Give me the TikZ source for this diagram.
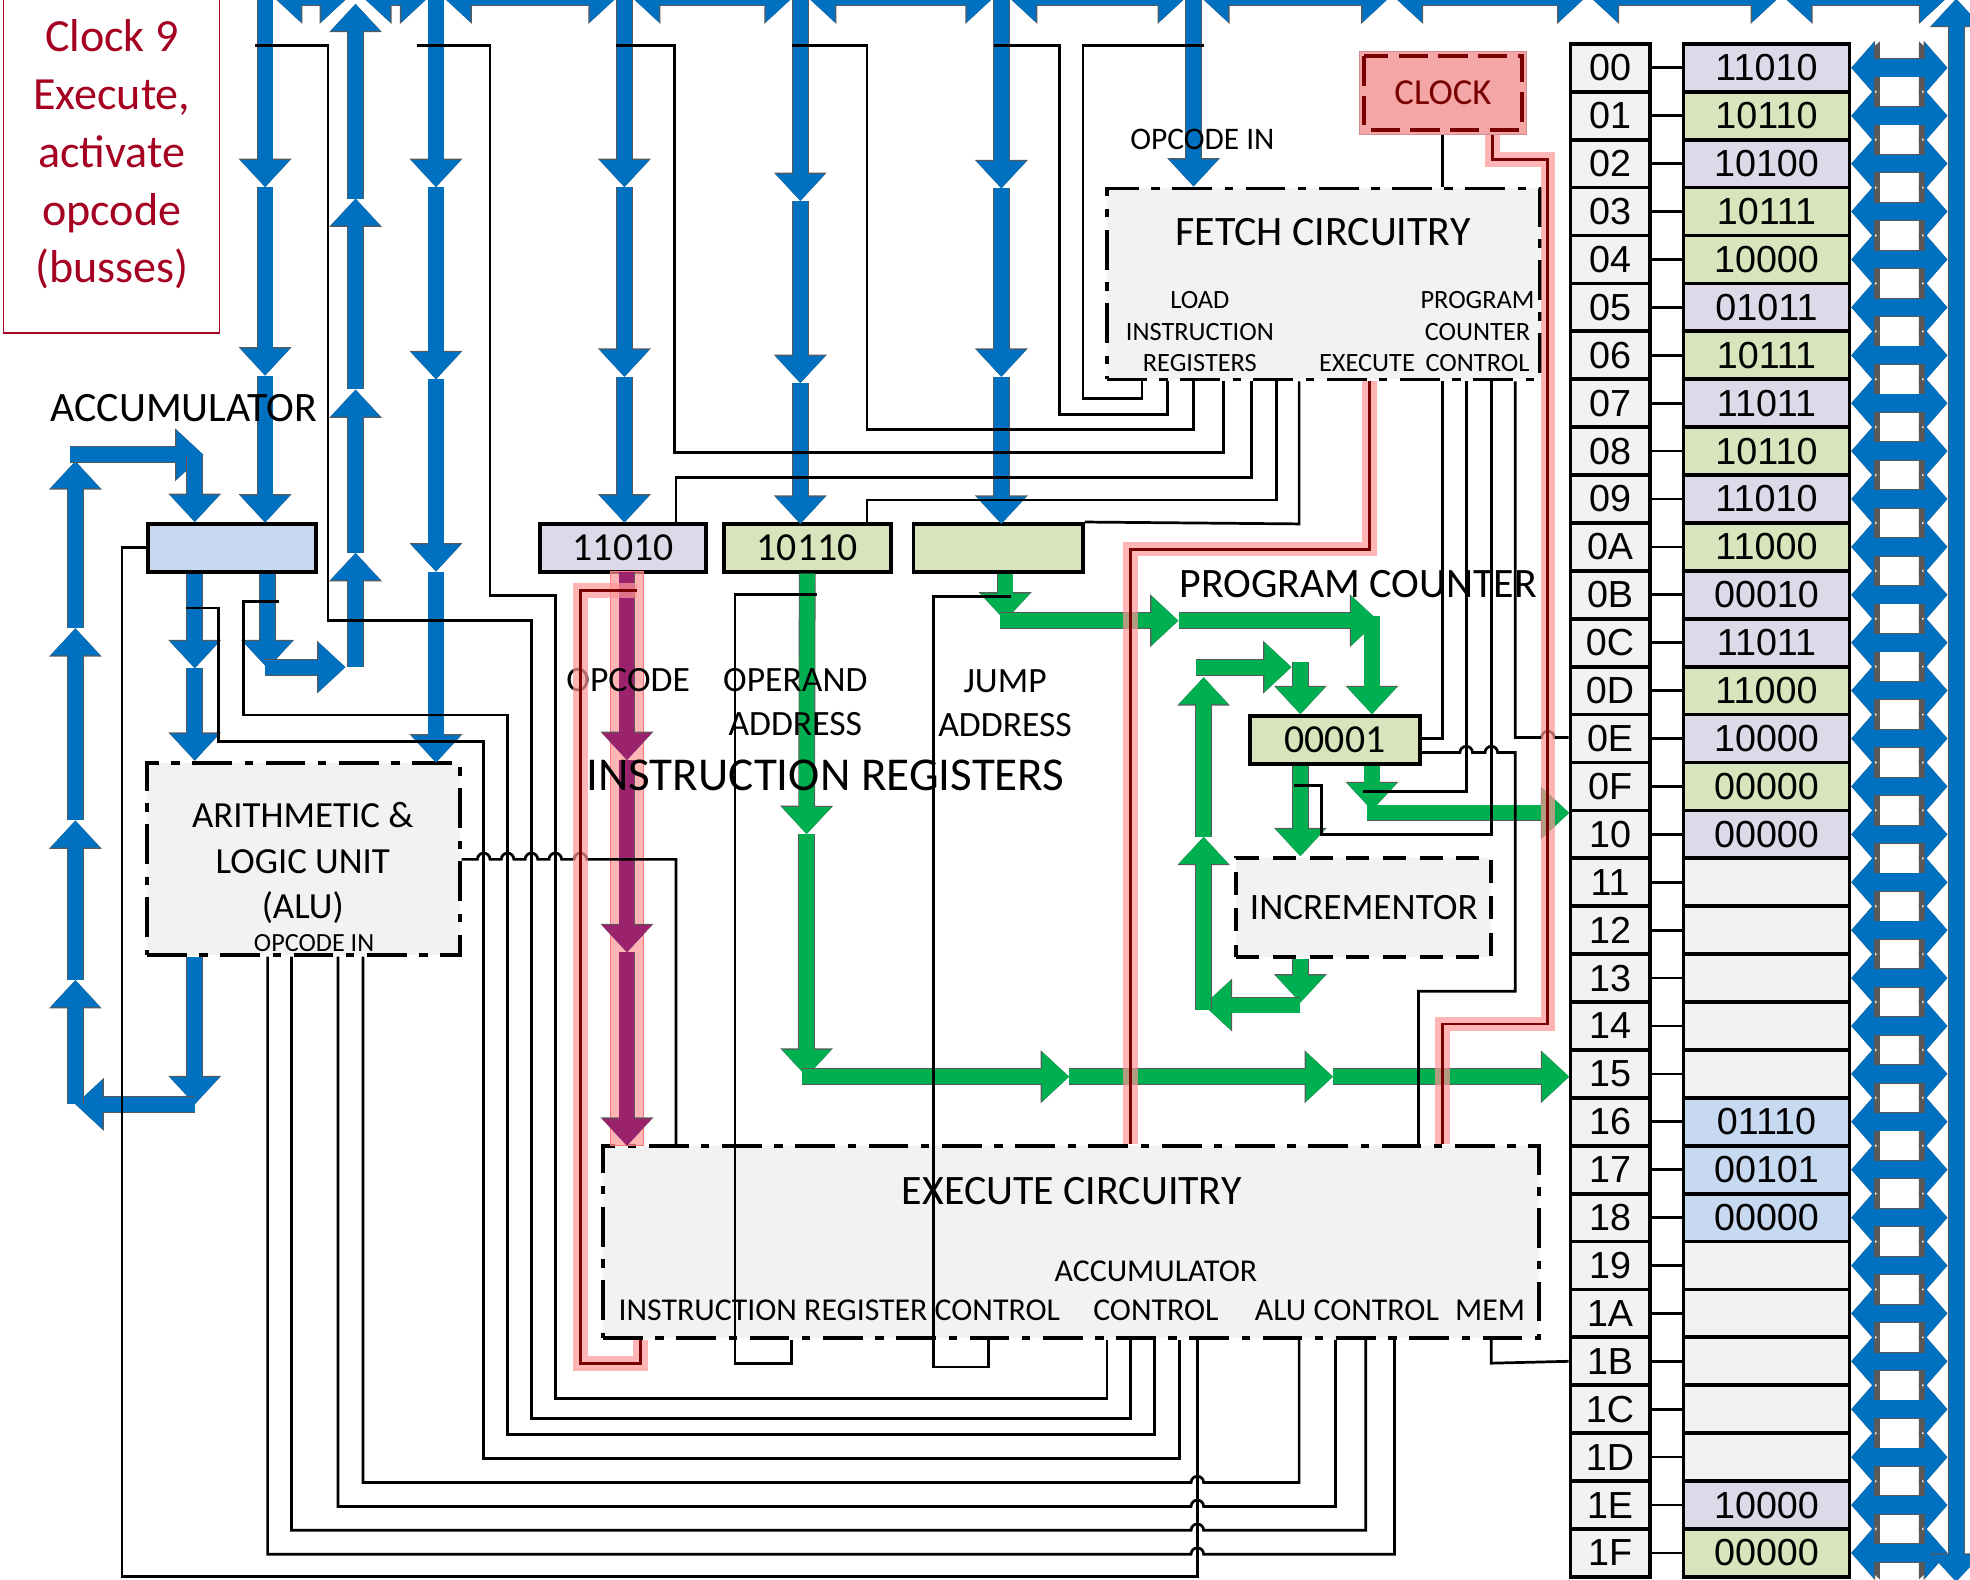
\documentclass[tikz,border=0pt]{standalone}
\usepackage{fontspec}
\setmainfont{Carlito}
\newfontfamily\memfont{Liberation Sans}
\usetikzlibrary{positioning, arrows.meta, calc}

\definecolor{busblue}{RGB}{0,112,192}
\definecolor{pcgreen}{RGB}{0,176,80}
\definecolor{oppurple}{RGB}{155,35,110}
\definecolor{hotpink}{RGB}{255,150,150}
\definecolor{hotred}{RGB}{120,0,0}
\definecolor{clockpink}{RGB}{244,166,166}
\definecolor{titlered}{RGB}{165,0,33}
\definecolor{boxgray}{RGB}{242,242,242}
\definecolor{opc}{RGB}{222,217,233}
\definecolor{opd}{RGB}{216,228,188}
\definecolor{dat}{RGB}{198,217,241}
\definecolor{emp}{RGB}{242,242,242}

\tikzset{
  wire/.style={draw=black, line width=1.3pt},
  hot/.style={draw=hotred, line width=1.4pt, preaction={draw=hotpink, draw opacity=0.7, line width=7pt}},
  bus/.style={draw=busblue, line width=7.2pt, >={Triangle[length=13pt,width=23pt]},
    preaction={draw=black!65, line width=8pt, >={Triangle[length=13.6pt,width=24.4pt]}}},
  pcbus/.style={bus, draw=pcgreen},
  opbus/.style={bus, draw=oppurple},
  membus/.style={bus, line width=8.4pt, >={Triangle[length=10.8pt,width=24pt]},
    preaction={draw=black!65, line width=9.2pt, >={Triangle[length=11.4pt,width=25.4pt]}}}
}

\begin{document}
\begin{tikzpicture}[
    x=0.6pt, y=-0.6pt,
    every node/.style={inner sep=0pt},
    % box styles
    circbox/.style={draw, fill=boxgray, line width=1.8pt, dash pattern=on 19pt off 6pt on 4pt off 6pt},
    reg/.style={draw, line width=1.8pt, minimum height=22.8pt, font=\fontsize{19}{22}\selectfont},
    cell/.style={draw, line width=1.8pt, minimum height=22.88pt, font=\memfont\fontsize{18}{20}\selectfont},
    lbl/.style={align=center}
    ]
    \useasboundingbox (0,0) rectangle (1568,1257);
    \clip (0,0) rectangle (1568,1257);

    % --- Title ---
    \node (titlebox) [draw=titlered, line width=0.6pt, minimum width=103.2pt, minimum height=162pt] at (89,130) {};
    \node (title) [lbl, text=titlered, font=\fontsize{22}{27.6}\selectfont] at (89,123) {Clock 9\\Execute,\\activate\\opcode\\(busses)};

    % --- Boxes ---
    \node (fetch) [circbox, minimum width=207pt, minimum height=91.2pt] at (1053.5,226) {};
    \node (execute) [circbox, minimum width=447pt, minimum height=91.8pt] at (852.5,988.5) {};
    \node (alu) [circbox, minimum width=149.4pt, minimum height=91.8pt] at (241.5,683.5) {};
    \node (incr) [draw, fill=boxgray, line width=1.8pt, dash pattern=on 11pt off 6.5pt, minimum width=121.8pt, minimum height=47.4pt, font=\fontsize{17.8}{21}\selectfont] at (1085.5,722.5) {INCREMENTOR};

    \node (acc) [reg, fill=dat, minimum width=80.4pt] at (184.5,436) {};
    \node (irop) [reg, fill=opc, minimum width=79.2pt] at (496,436) {11010};
    \node (irad) [reg, fill=opd, minimum width=79.8pt] at (642.5,436) {10110};
    \node (irjmp) [reg, fill=opd, minimum width=81pt] at (794.5,436) {};
    \node (pc) [reg, fill=opd, minimum width=81pt] at (1062.5,589) {00001};

    \node (clock) [draw=clockpink!85!black, line width=0.6pt, fill=clockpink, minimum width=79.8pt, minimum height=39.6pt, text=hotred, font=\fontsize{17.5}{21}\selectfont] at (1148.5,74) {CLOCK};
    \draw[hotred, line width=1.8pt, dash pattern=on 14pt off 5pt] ($(clock.north west)+(2.6pt,-2.6pt)$) rectangle ($(clock.south east)+(-2.6pt,2.6pt)$);

    % --- Memory ---
    \foreach \a/\v/\c [count=\i from 0] in {00/11010/opc, 01/10110/opd, 02/10100/opc, 03/10111/opd,
        04/10000/opd, 05/01011/opc, 06/10111/opd, 07/11011/opc, 08/10110/opd, 09/11010/opc,
        0A/11000/opd, 0B/00010/opc, 0C/11011/opc, 0D/11000/opd, 0E/10000/opc, 0F/00000/opd,
        10/00000/opc, 11//emp, 12//emp, 13//emp, 14//emp, 15//emp, 16/01110/dat, 17/00101/dat,
        18/00000/dat, 19//emp, 1A//emp, 1B//emp, 1C//emp, 1D//emp, 1E/10000/opc, 1F/00000/opd} {
      \node (addr\i) [cell, fill=boxgray, minimum width=37.8pt] at (1281.5,54+38.13*\i) {\a};
      \node (mem\i) [cell, fill=\c, minimum width=79.2pt] at (1406,54+38.13*\i) {\v};
      \draw[wire] (addr\i) -- (mem\i);
      \draw[membus,<->] (mem\i.east) -- (1550,54+38.13*\i);
    }

    % --- Blue busses ---
    \foreach \s/\e in {218/277, 289/341, 353/491, 503/631, 643/791, 803/944, 956/1106, 1110/1262, 1266/1416, 1420/1550}
      \draw[bus,<->] (\s,-2) -- (\e,-2);
    \draw[bus,<->] (1557,-1) -- (1557,1259);

    \foreach \a/\b in {-5/149, 149/299, 299/416} \draw[bus,->] (211,\a) -- (211,\b);
    \foreach \a/\b in {531/440, 440/310, 310/158, 158/3} \draw[bus,->] (283,\a) -- (283,\b);
    \foreach \a/\b in {-5/149, 149/302, 302/455, 455/607} \draw[bus,->] (347,\a) -- (347,\b);
    \foreach \a/\b in {-5/149, 149/300, 300/416} \draw[bus,->] (497,\a) -- (497,\b);
    \foreach \a/\b in {-5/160, 160/305, 305/417} \draw[bus,->] (637,\a) -- (637,\b);
    \foreach \a/\b in {-5/150, 150/300, 300/417} \draw[bus,->] (797,\a) -- (797,\b);
    \draw[bus,->] (950,-5) -- (fetch.north -| 950,0);

    % accumulator in / out
    \draw[bus,->] (acc.south -| 155,0) -- (155,532);
    \draw[bus,->] (155,532) -- (alu.north -| 155,0);
    \draw[bus,->] (acc.south -| 213,0) -- (213,532);
    \draw[bus,->] (211,531) -- (275,531);
    \draw[bus,->] (alu.south -| 155,0) -- (155,879);
    \draw[bus,->] (155,879) -- (60,879);
    \foreach \a/\b in {879/780, 780/653, 653/500, 500/367} \draw[bus,->] (60,\a) -- (60,\b);
    \draw[bus,->] (56,362) -- (162,362);
    \draw[bus,->] (155,362) -- (acc.north -| 155,0);

    % --- Opcode bus (active) ---
    \fill[hotpink, fill opacity=0.7, draw=hotpink!80!red, line width=0.4pt] (486,455) rectangle (512,912);
    \foreach \a/\b in {455/605, 605/758, 758/912} \draw[opbus,->] (499,\a) -- (499,\b);

    % --- Green busses ---
    \draw[pcbus,->] (irad.south) -- (642,664);
    \draw[pcbus,->] (642,664) -- (642,857);
    \draw[pcbus,->] (638,857) -- (851,857);
    \draw[pcbus,->] (851,857) -- (1061,857);
    \draw[pcbus,->] (1061,857) -- (1249,857);
    \draw[pcbus,->] (irjmp.south -| 800,0) -- (800,494);
    \draw[pcbus,->] (796,494) -- (938,494);
    \draw[pcbus,->] (938,494) -- (1097,494);
    \draw[pcbus,->] (1092,490) -- (pc.north -| 1092,0);
    \draw[pcbus,->] (pc.south -| 1035,0) -- (incr.north -| 1035,0);
    \draw[pcbus,->] (pc.south -| 1092,0) -- (1092,645);
    \draw[pcbus,->] (1088,647) -- (1249,647);
    \draw[pcbus,->] (incr.south -| 1035,0) -- (1035,798);
    \draw[pcbus,->] (1035,800) -- (958,800);
    \draw[pcbus,->] (958,804) -- (958,666);
    \draw[pcbus,->] (958,666) -- (958,539);
    \draw[pcbus,->] (952,531) -- (1028,531);
    \draw[pcbus,->] (1035,527) -- (pc.north -| 1035,0);

    % --- Labels ---
    \node (acclbl) [anchor=west, font=\fontsize{20}{24}\selectfont] at (40,325) {ACCUMULATOR};
    \node (oplbl) [font=\fontsize{17}{21}\selectfont] at (500,541) {OPCODE};
    \node (adlbl) [lbl, font=\fontsize{17}{21}\selectfont] at (633,559) {OPERAND\\ADDRESS};
    \node (jmplbl) [lbl, font=\fontsize{17}{21}\selectfont] at (800,560) {JUMP\\ADDRESS};
    \node (irlbl) [font=\fontsize{22.5}{26}\selectfont] at (657,617) {INSTRUCTION REGISTERS};
    \node (pclbl) [font=\fontsize{20}{24}\selectfont] at (1081,465) {PROGRAM COUNTER};
    \node (opin) [font=\fontsize{15}{18}\selectfont] at (957,111) {OPCODE IN};
    \node (fetchlbl) [font=\fontsize{20}{24}\selectfont] at (1053,185) {FETCH CIRCUITRY};
    \node (loadlbl) [lbl, font=\fontsize{12.6}{15}\selectfont] at (955,264) {LOAD\\INSTRUCTION\\REGISTERS};
    \node (pcclbl) [lbl, font=\fontsize{12.6}{15}\selectfont] at (1176,264) {PROGRAM\\COUNTER\\CONTROL};
    \node (exelbl) [font=\fontsize{12.6}{15}\selectfont] at (1088,289) {EXECUTE};
    \node (alulbl) [lbl, font=\fontsize{17.6}{21.6}\selectfont] at (241,687) {ARITHMETIC \&\\LOGIC UNIT\\(ALU)};
    \node (aluin) [font=\fontsize{12.5}{15}\selectfont] at (250,751) {OPCODE IN};
    \node (execlbl) [font=\fontsize{20}{24}\selectfont] at (853,948) {EXECUTE CIRCUITRY};
    \node (irclbl) [font=\fontsize{15.2}{18.6}\selectfont] at (668,1043) {INSTRUCTION REGISTER CONTROL};
    \node (accclbl) [lbl, font=\fontsize{15.2}{18.6}\selectfont] at (920,1027) {ACCUMULATOR\\CONTROL};
    \node (aluclbl) [font=\fontsize{15.2}{18.6}\selectfont] at (1072,1043) {ALU CONTROL};
    \node (memlbl) [font=\fontsize{15.2}{18.6}\selectfont] at (1186,1043) {MEM};

    % --- Control wires ---
    \draw[wire] (203,36) -- (261,36) -- (261,494) -- (423,494) -- (423,1129) -- (900,1129) -- (execute.south -| 900,0);
    \draw[wire] (332,36) -- (390,36) -- (390,474) -- (442,474) -- (442,1113) -- (881,1113) -- (execute.south -| 881,0);
    \draw[wire] (490,36) -- (537,36) -- (537,360) -- (974,360) -- (fetch.south -| 974,0);
    \draw[wire] (630,36) -- (690,36) -- (690,342) -- (950,342) -- (fetch.south -| 950,0);
    \draw[wire] (791,36) -- (843,36) -- (843,330) -- (929,330) -- (fetch.south -| 929,0);
    \draw[wire] (958,36) -- (862,36) -- (862,317) -- (909,317) -- (fetch.south -| 909,0);
    \draw[wire] (irop.north -| 538,0) -- (538,380) -- (996,380) -- (fetch.south -| 996,0);
    \draw[wire] (irad.north -| 690,0) -- (690,398) -- (1016,398) -- (fetch.south -| 1016,0);
    \draw[wire] (irjmp.north east) -- (1034,417) -- (fetch.south -| 1034,0);

    \draw[wire] (148,484) -- (174,484) -- (174,590) -- (385,590) -- (385,1161) -- (939,1161) -- (execute.south -| 939,0);
    \draw[wire] (222,479) -- (194,479) -- (194,569) -- (404,569) -- (404,1142) -- (919,1142) -- (execute.south -| 919,0);
    \draw[wire] (acc.west) -- (97,436) -- (97,1255) -- (953,1255) -- (execute.south -| 953,0);

    % ALU control (hops over 953)
    \draw[wire] (alu.south -| 213,0) -- (213,1237) -- (948,1237) arc[start angle=180, end angle=360, radius=5] -- (1110,1237) -- (execute.south -| 1110,0);
    \draw[wire] (alu.south -| 232,0) -- (232,1218) -- (948,1218) arc[start angle=180, end angle=360, radius=5] -- (1087,1218) -- (execute.south -| 1087,0);
    \draw[wire] (alu.south -| 269,0) -- (269,1199) -- (948,1199) arc[start angle=180, end angle=360, radius=5] -- (1063,1199) -- (execute.south -| 1063,0);
    \draw[wire] (alu.south -| 289,0) -- (289,1180) -- (948,1180) arc[start angle=180, end angle=360, radius=5] -- (1034,1180) -- (execute.south -| 1034,0);

    % ALU result to execute
    \draw[wire] (alu.east |- 0,684) -- (380,684) arc[start angle=180, end angle=360, radius=5]
      -- (399,684) arc[start angle=180, end angle=360, radius=5]
      -- (418,684) arc[start angle=180, end angle=360, radius=5]
      -- (437,684) arc[start angle=180, end angle=360, radius=5]
      -- (457,684) arc[start angle=180, end angle=360, radius=5]
      -- (538,684) -- (execute.north -| 538,0);

    \draw[wire] (650,473) -- (585,473) -- (585,1085) -- (630,1085) -- (execute.south -| 630,0);
    \draw[wire] (805,475) -- (743,475) -- (743,1088) -- (787,1088) -- (execute.south -| 787,0);

    % program counter control
    \draw[wire] (fetch.south -| 1148,0) -- (1148,588) -- (pc.east |- 0,588);
    \draw[wire] (fetch.south -| 1167,0) -- (1167,630) -- (1085,630);
    \draw[wire] (fetch.south -| 1187,0) -- (1187,664) -- (1052,664) -- (1052,625) -- (1030,625);
    \draw[wire] (fetch.south -| 1206,0) -- (1206,587) -- (1227,587) arc[start angle=180, end angle=360, radius=5] -- (addr14.west |- 0,587);
    \draw[wire] (pc.east |- 0,599) -- (1162,599) arc[start angle=180, end angle=360, radius=5]
      -- (1182,599) arc[start angle=180, end angle=360, radius=5]
      -- (1206,599) -- (1206,789) -- (1129,789) -- (execute.north -| 1129,0);
    \draw[wire] (execute.south -| 1187,0) -- (1187,1085) -- (addr27.west);
    \draw[wire] (clock.south -| 1148,0) -- (fetch.north -| 1148,0);

    % --- Active control lines ---
    \draw[hot] (clock.south -| 1188,0) -- (1188,127) -- (1232,127) -- (1232,815) -- (1148,815) -- (execute.north -| 1148,0);
    \draw[hot] (fetch.south -| 1090,0) -- (1090,437) -- (900,437) -- (execute.north -| 900,0);
    \draw[hot] (execute.south -| 510,0) -- (510,1085) -- (462,1085) -- (462,470) -- (507,470);
\end{tikzpicture}
\end{document}
